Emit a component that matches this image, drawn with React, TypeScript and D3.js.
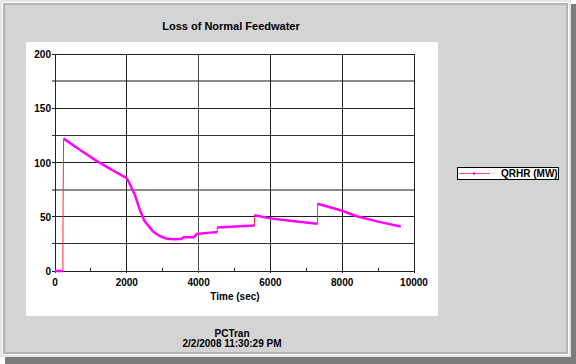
import * as d3 from 'd3';
import { useEffect, useRef } from 'react';

// QRHR (MW) vs time (sec)
const times = [0, 220, 225, 240, 700, 1158, 1600, 2000, 2100, 2222, 2361, 2500, 2731, 2900, 3102, 3300, 3519, 3565, 3889, 3935, 4398, 4519, 4519, 5556, 5556, 6000, 6600, 7314, 7314, 8000, 8400, 9000, 9630];
const qrhr = [0, 0, 60, 122, 111.5, 101.5, 93, 85.5, 79, 70.3, 56.5, 45.7, 36.5, 32.5, 29.8, 29.2, 29.5, 31, 31.2, 34, 35.6, 35.8, 40.2, 42, 51.3, 48.5, 46, 43.6, 62, 55.5, 50.5, 45.5, 41];

const xTicks = [0, 2000, 4000, 6000, 8000, 10000];
const xMinorTicks = [1000, 3000, 5000, 7000, 9000];
const yTicks = [0, 50, 100, 150, 200];
const yMinorTicks = [25, 75, 125, 175];

const chartTitle = 'Loss of Normal Feedwater';
const xTitle = 'Time (sec)';
const seriesName = 'QRHR (MW)';
const footer = ['PCTran', '2/2/2008 11:30:29 PM'];

export default function App() {
    const ref = useRef<SVGSVGElement | null>(null);

    useEffect(() => {
        const svg = d3.select(ref.current);
        svg.selectAll('*').remove();

        const width = 576;
        const height = 364;
        const font = 'Arial, "Liberation Sans", sans-serif';

        const x = d3.scaleLinear().domain([0, 10000]).range([55, 414]);
        const y = d3.scaleLinear().domain([0, 200]).range([271, 54]);

        svg.attr('width', width).attr('height', height);

        // window frame + drop shadow
        svg.append('rect').attr('x', 5).attr('y', 4).attr('width', 571).attr('height', 360).attr('fill', '#7c7c7c');
        svg.append('rect').attr('x', 0).attr('y', 0).attr('width', 571).attr('height', 357).attr('fill', '#e6e6e6');
        svg.append('rect').attr('x', 2.5).attr('y', 2.5).attr('width', 566).attr('height', 352)
            .attr('fill', 'none').attr('stroke', '#ffffff');
        svg.append('rect').attr('x', 4).attr('y', 4).attr('width', 563).attr('height', 349)
            .attr('fill', 'none').attr('stroke', '#b4b4b4').attr('stroke-width', 2);
        svg.append('rect').attr('x', 5).attr('y', 5).attr('width', 561).attr('height', 347).attr('fill', '#d4d4d4');

        // white plot panel
        svg.append('rect').attr('x', 26).attr('y', 42).attr('width', 412).attr('height', 274).attr('fill', '#ffffff');

        svg.append('text')
            .attr('x', 231).attr('y', 30)
            .attr('text-anchor', 'middle')
            .attr('font-family', font).attr('font-size', 11).attr('font-weight', 'bold')
            .text(chartTitle);

        // grid
        const grid = svg.append('g');
        grid.selectAll('.hmin')
            .data(yMinorTicks)
            .enter()
            .append('line')
            .attr('x1', 52).attr('x2', x(10000))
            .attr('y1', d => y(d)).attr('y2', d => y(d))
            .attr('stroke', d => (d === 75 || d === 175 ? '#8a8a8a' : '#303030'))
            .attr('stroke-width', d => (d === 75 || d === 175 ? 2 : 1))
            .attr('shape-rendering', 'crispEdges');
        grid.selectAll('.hmaj')
            .data(yTicks)
            .enter()
            .append('line')
            .attr('x1', 52).attr('x2', x(10000))
            .attr('y1', d => y(d)).attr('y2', d => y(d))
            .attr('stroke', '#202020')
            .attr('shape-rendering', 'crispEdges');
        grid.selectAll('.vmaj')
            .data(xTicks)
            .enter()
            .append('line')
            .attr('x1', d => x(d)).attr('x2', d => x(d))
            .attr('y1', y(200)).attr('y2', y(0) + 2)
            .attr('stroke', d => (d === 4000 ? '#505050' : '#202020'))
            .attr('shape-rendering', 'crispEdges');
        grid.selectAll('.vmin')
            .data(xMinorTicks)
            .enter()
            .append('line')
            .attr('x1', d => x(d)).attr('x2', d => x(d))
            .attr('y1', y(0) - 3).attr('y2', y(0))
            .attr('stroke', '#202020')
            .attr('shape-rendering', 'crispEdges');

        // axis labels
        svg.selectAll('.ylab')
            .data(yTicks)
            .enter()
            .append('text')
            .attr('x', 51).attr('y', d => y(d) + 4)
            .attr('text-anchor', 'end')
            .attr('font-family', font).attr('font-size', 10).attr('font-weight', 'bold')
            .text(d => d);
        svg.selectAll('.xlab')
            .data(xTicks)
            .enter()
            .append('text')
            .attr('x', d => x(d)).attr('y', 286)
            .attr('text-anchor', 'middle')
            .attr('font-family', font).attr('font-size', 10).attr('font-weight', 'bold')
            .text(d => d);
        svg.append('text')
            .attr('x', 235).attr('y', 300)
            .attr('text-anchor', 'middle')
            .attr('font-family', font).attr('font-size', 10).attr('font-weight', 'bold')
            .text(xTitle);

        // series: thin red connector, thick magenta where the trend is sampled
        const pts = times.map((t, i) => [t, qrhr[i]] as [number, number]);
        const line = d3.line<[number, number]>().x(d => x(d[0])).y(d => y(d[1]));
        svg.append('path')
            .attr('d', line(pts))
            .attr('fill', 'none')
            .attr('stroke', '#ff2a3a')
            .attr('stroke-width', 1);
        const segs = d3.pairs(pts).filter(([a, b]) => b[0] - a[0] > 20);
        svg.selectAll('.seg')
            .data(segs)
            .enter()
            .append('path')
            .attr('d', d => line(d))
            .attr('fill', 'none')
            .attr('stroke', '#ff00ff')
            .attr('stroke-width', 2.5)
            .attr('stroke-linejoin', 'round');

        // legend
        const lg = svg.append('g');
        lg.append('rect').attr('x', 457.5).attr('y', 167.5).attr('width', 101).attr('height', 12)
            .attr('fill', '#ffffff').attr('stroke', '#000000');
        lg.append('line').attr('x1', 459).attr('x2', 490).attr('y1', 173.5).attr('y2', 173.5)
            .attr('stroke', '#ff4a6a').attr('stroke-width', 1);
        lg.append('circle').attr('cx', 474).attr('cy', 173.5).attr('r', 1.3).attr('fill', '#ff00ff');
        lg.append('text')
            .attr('x', 501).attr('y', 177)
            .attr('font-family', font).attr('font-size', 10).attr('font-weight', 'bold')
            .text(seriesName);

        // footer
        svg.selectAll('.foot')
            .data(footer)
            .enter()
            .append('text')
            .attr('x', 232).attr('y', (d, i) => 337 + i * 10)
            .attr('text-anchor', 'middle')
            .attr('font-family', font).attr('font-size', 10).attr('font-weight', 'bold')
            .text(d => d);
    }, []);

    return <svg ref={ref} style={{ position: 'absolute', left: 0, top: 0 }}></svg>;
}
